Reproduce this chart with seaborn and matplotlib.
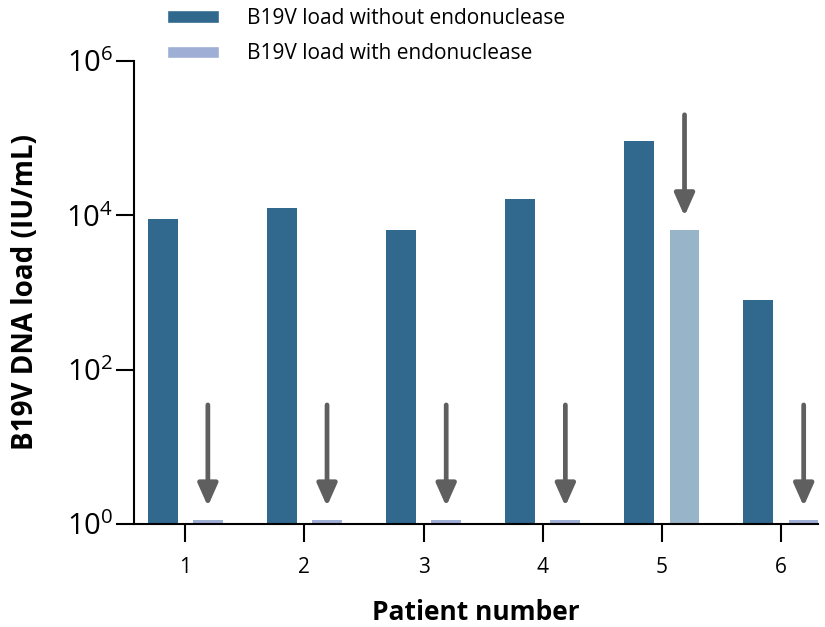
import matplotlib
matplotlib.use("Agg")
import matplotlib.pyplot as plt
import seaborn as sns
import pandas as pd

patients = ["1", "2", "3", "4", "5", "6"]
load_without = [9000, 12400, 6450, 16300, 92000, 800]
load_with = [1.12, 1.12, 1.12, 1.12, 6450, 1.12]
series_names = ["B19V load without endonuclease", "B19V load with endonuclease"]
y_tick_values = [1, 1e2, 1e4, 1e6]
y_tick_labels = ["$10^{0}$", "$10^{2}$", "$10^{4}$", "$10^{6}$"]

df = pd.DataFrame({
    "patient": patients * 2,
    "load": load_without + load_with,
    "condition": [series_names[0]] * len(patients) + [series_names[1]] * len(patients),
})

sns.set_style("white")
plt.rcParams["font.family"] = ["Open Sans", "DejaVu Sans"]
plt.rcParams["mathtext.default"] = "regular"
plt.rcParams["text.color"] = "black"
plt.rcParams["axes.labelcolor"] = "black"
plt.rcParams["xtick.color"] = "black"
plt.rcParams["ytick.color"] = "black"

dark = "#30688e"
light = "#9eaed4"
light_detected = "#98b4c8"
arrow_col = "#5f5f5f"
y_floor = 1

fig = plt.figure(figsize=(8.25, 6.27), dpi=100)
ax = fig.add_axes([0.1624, 0.1643, 0.8291, 0.7384])

sns.barplot(data=df, x="patient", y="load", hue="condition",
            palette=[dark, light], width=0.76, gap=0.34,
            log_scale=True, ax=ax, saturation=1)

# on a log axis, start every bar at the axis floor instead of zero
for container in ax.containers:
    for patch in container:
        top = patch.get_y() + patch.get_height()
        patch.set_y(y_floor)
        patch.set_height(top - y_floor)
        patch.set_edgecolor("none")

# the one detectable residual load gets its own shade
light_bars = ax.containers[1]
light_bars[4].set_facecolor(light_detected)

ax.set_ylim(y_floor, 1e6)
ax.set_xlim(-0.43, 5.31)
ax.set_yticks(y_tick_values)
ax.set_yticklabels(y_tick_labels)
ax.yaxis.set_minor_locator(matplotlib.ticker.NullLocator())

# arrows pointing at the endonuclease-treated bars
for patch, v in zip(light_bars, load_with):
    xc = patch.get_x() + patch.get_width() / 2
    ax.annotate("", xy=(xc, v), xycoords="data",
                xytext=(0, 83), textcoords="offset points",
                arrowprops=dict(arrowstyle="-|>,head_length=1.35,head_width=0.6",
                                color=arrow_col, lw=3.4, shrinkA=0, shrinkB=10))

for s in ["top", "right"]:
    ax.spines[s].set_visible(False)
for s in ["left", "bottom"]:
    ax.spines[s].set_linewidth(1.5)
    ax.spines[s].set_color("black")

ax.tick_params(axis="y", which="major", length=13, width=1.5, labelsize=21, left=True, pad=2)
ax.tick_params(axis="x", which="major", length=13, width=1.5, labelsize=15, bottom=True, pad=11)

ax.set_xlabel("Patient number", fontsize=19, fontweight="bold", labelpad=15)
ax.set_ylabel("B19V DNA load (IU/mL)", fontsize=20, fontweight="bold", labelpad=19)

handles, labels = ax.get_legend_handles_labels()
ax.get_legend().remove()
fig.legend(handles, labels, loc="upper left", bbox_to_anchor=(0.18, 1.017),
           frameon=False, fontsize=15, handlelength=2.5, handleheight=0.55,
           handletextpad=1.35, labelspacing=0.68)

fig.savefig("out.png", dpi=100)
